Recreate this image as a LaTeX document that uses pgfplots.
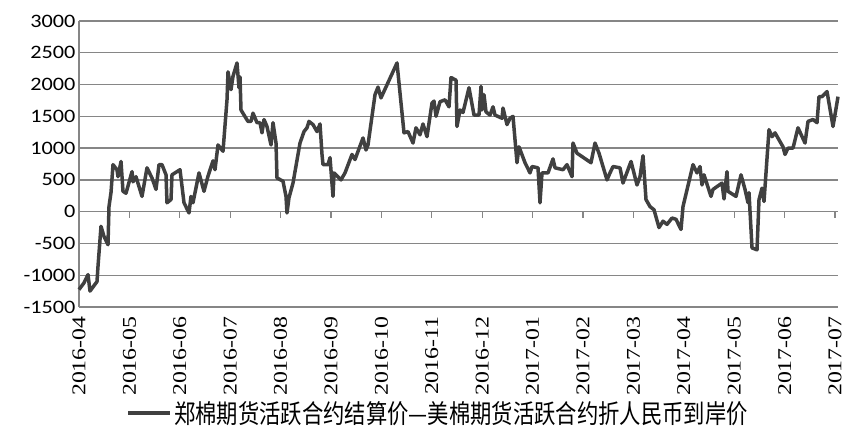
\documentclass[border=0pt]{standalone}
\usepackage{fontspec}
\usepackage{pgfplots}
\pgfplotsset{compat=1.18}
\usetikzlibrary{calc}
\newfontfamily\ylab[FakeStretch=1.17]{Carlito}
\newfontfamily\xlab[FakeStretch=1.22]{Liberation Serif}
\newfontfamily\cjk[FakeStretch=0.82]{Noto Sans CJK SC}
\definecolor{lc}{HTML}{404040}
\definecolor{gc}{HTML}{868686}
\begin{document}
\begin{tikzpicture}
\begin{axis}[name=ax,
  scale only axis, width=759pt, height=286pt,
  xmin=79, xmax=838, ymin=-1500, ymax=3000,
  clip=false,
  axis line style={draw=none},
  major tick length=0pt,
  ytick={-1500,-1000,...,3000},
  /pgf/number format/assume math mode=true,
  /pgf/number format/1000 sep={},
  yticklabel style={font=\ylab\fontsize{19}{20}\selectfont, text=black},
  ymajorgrids, grid style={gc, line width=1.3pt},
  xtick={79,129.4,179.8,230.2,280.6,331,381.4,431.8,482.2,532.6,583,633.4,683.8,734.2,784.6,835},
  xticklabels={2016-04,2016-05,2016-06,2016-07,2016-08,2016-09,2016-10,2016-11,2016-12,2017-01,2017-02,2017-03,2017-04,2017-05,2017-06,2017-07},
  xticklabel style={rotate=90, anchor=east, font=\xlab\fontsize{19.5}{20}\selectfont, text=black, xshift=-6pt},
  legend style={draw=none, fill=none, at={(axis description cs:0.473,-0.372)}, anchor=center,
    font=\cjk\fontsize{26}{28}\selectfont},
  legend image code/.code={\draw[lc, line width=4pt] (0pt,0pt) -- (42pt,0pt);},
]
\draw[gc, line width=1.3pt] (axis cs:79,-1500) -- (axis cs:79,3000);
\pgfplotsinvokeforeach{129.4,179.8,230.2,280.6,331,381.4,431.8,482.2,532.6,583,633.4,683.8,734.2,784.6,835}{
  \draw[gc, line width=1.2pt] (axis cs:#1,0) -- ++(0pt,-6pt);
}
\addplot[lc, line width=3.5pt, line join=round] coordinates {
(79,-1226) (84,-1120) (88,-990) (90,-1250) (97,-1100) (98,-860) (101,-230) (104,-390) (108,-520) (109,80) (111,300) (113,740) (117,660) (118,550) (121,790) (123,320) (126,290) (132,630) (133,470) (136,550) (142,240) (147,690) (152,530) (156,350) (159,740) (162,740) (166,580) (167,140) (171,190) (172,580) (180,660) (182,400) (184,140) (189,-20) (191,240) (193,140) (199,610) (204,320) (208,560) (213,800) (215,660) (218,1050) (223,950) (227,1760) (228,2200) (231,1920) (233,2130) (237,2340) (239,1950) (240,2120) (241,1600) (246,1470) (248,1420) (251,1420) (253,1550) (257,1400) (260,1400) (262,1240) (264,1450) (267,1340) (271,1050) (273,1400) (276,1080) (277,530) (283,480) (286,240) (287,-20) (289,220) (293,450) (300,1080) (304,1260) (307,1320) (309,1420) (313,1370) (317,1260) (320,1380) (322,900) (323,740) (328,740) (330,850) (333,240) (334,610) (341,500) (345,610) (352,900) (355,820) (363,1160) (366,970) (368,1050) (375,1840) (378,1960) (381,1790) (397,2340) (404,1240) (408,1260) (413,1080) (416,1320) (420,1210) (423,1380) (427,1180) (432,1710) (434,1740) (436,1500) (440,1730) (445,1760) (449,1650) (451,2110) (456,2070) (457,1340) (460,1600) (463,1560) (469,1950) (474,1520) (479,1520) (481,1970) (482,1600) (484,1840) (486,1570) (490,1520) (493,1650) (495,1520) (502,1470) (503,1630) (507,1370) (510,1470) (513,1500) (517,770) (519,1020) (525,770) (530,610) (532,710) (538,690) (540,140) (542,610) (548,610) (553,830) (555,690) (563,660) (567,740) (572,550) (573,1080) (577,920) (591,770) (595,1080) (599,920) (607,500) (610,610) (613,710) (620,690) (623,450) (631,790) (637,420) (640,550) (643,880) (646,190) (650,80) (654,30) (659,-250) (663,-150) (667,-200) (672,-100) (676,-120) (681,-280) (683,80) (693,740) (697,610) (700,710) (702,420) (704,580) (711,240) (713,350) (722,450) (724,200) (727,630) (728,320) (736,240) (741,580) (745,350) (748,140) (749,300) (752,-570) (757,-600) (759,190) (762,370) (764,160) (769,1290) (772,1180) (775,1240) (783,1020) (785,900) (788,1000) (793,1000) (798,1320) (805,1080) (808,1420) (813,1450) (817,1400) (819,1810) (822,1810) (827,1890) (833,1340) (838,1810)
};
\addlegendentry{郑棉期货活跃合约结算价—美棉期货活跃合约折人民币到岸价}
\end{axis}
\pgfresetboundingbox
\path ($(ax.south west)+(-79pt,-139pt)$) rectangle ($(ax.north east)+(20pt,21pt)$);
\end{tikzpicture}
\end{document}
